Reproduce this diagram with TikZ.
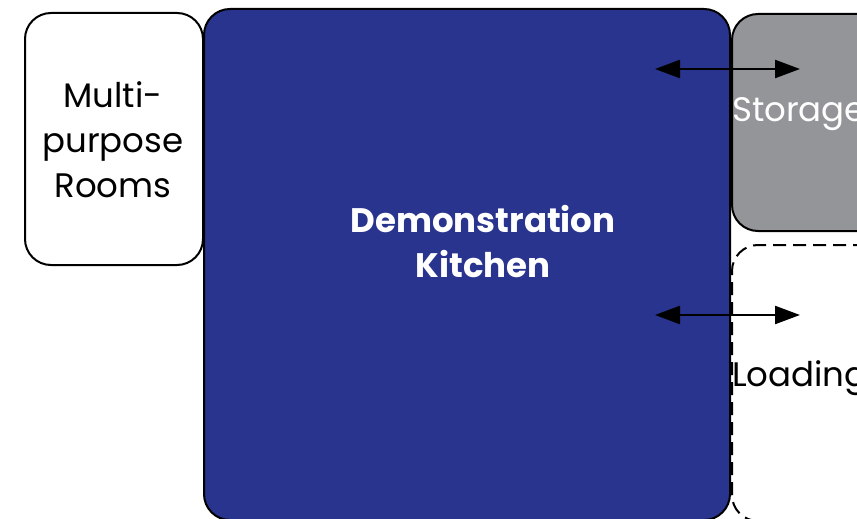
\documentclass[tikz,border=0pt]{standalone}
\usepackage{fontspec}
\setmainfont{Poppins}
\usetikzlibrary{arrows.meta}
\definecolor{kitblue}{HTML}{29348E}
\definecolor{storgray}{HTML}{939598}
\tikzset{
  room/.style={draw=black, line width=2pt, rounded corners=26pt, inner sep=0pt},
  lbl/.style={font=\fontsize{34}{45}\selectfont, align=center, inner sep=0pt},
  dbl/.style={line width=2.4pt, {Triangle[length=25pt,width=18pt]}-{Triangle[length=25pt,width=18pt]}}
}
\begin{document}
\begin{tikzpicture}[x=1pt,y=-1pt]
\useasboundingbox (0,0) rectangle (857,519);
\begin{scope}
\clip (0,0) rectangle (857,519);
\node[room, fill=white, minimum width=178pt, minimum height=252pt, anchor=north west] (multi) at (24,12) {};
\node[room, fill=storgray, minimum width=160pt, minimum height=217pt, anchor=north west] (stor) at (731,13) {};
\node[room, dashed, dash pattern=on 13pt off 7pt, fill=white, minimum width=160pt, minimum height=276pt, anchor=north west] (load) at (731,244) {};
\node[room, fill=kitblue, minimum width=526pt, minimum height=511pt, anchor=north west] (kitchen) at (203,8) {};
\end{scope}
\node[lbl, text=black] (multitxt) at (113,140) {Multi-\\purpose\\Rooms};
\node[lbl, text=white, font=\fontsize{34}{45}\selectfont\bfseries] (kittxt) at (483,242) {Demonstration\\Kitchen};
\node[lbl, text=white, anchor=west] (stortxt) at (732,114) {Storage};
\node[lbl, text=black, anchor=west] (loadtxt) at (732,378) {Loading};
\coordinate (a1l) at (655,69);
\coordinate (a1r) at (800,69);
\coordinate (a2l) at (655,315);
\coordinate (a2r) at (800,315);
\draw[dbl] (a1l) -- (a1r);
\draw[dbl] (a2l) -- (a2r);
\end{tikzpicture}
\end{document}
